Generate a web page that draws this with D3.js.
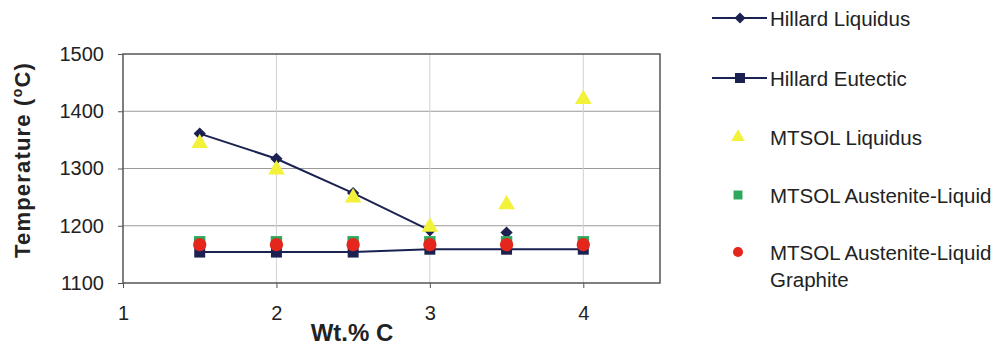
<!DOCTYPE html>
<html>
<head>
<meta charset="utf-8">
<script src="https://cdn.jsdelivr.net/npm/d3@7"></script>
<style>
  body { margin: 0; background: #fff; }
  svg { font-family: "Liberation Sans", Arial, sans-serif; }
</style>
</head>
<body>
<svg id="chart" width="1006" height="349"></svg>
<script>
// wt.% C positions
var wtC = [1.5, 2, 2.5, 3, 3.5, 4];
var xTicks = [1, 2, 3, 4];
var yTicks = [1100, 1200, 1300, 1400, 1500];

// series (null = no point)
var hillardLiquidus = [1361, 1317, 1257, 1192, 1188, null];
var hillardEutectic = [1154, 1154, 1154, 1159, 1159, 1159];
var mtsolLiquidus = [1344, 1298, 1249, 1198, 1237, 1421];
var mtsolAusLiq = [1172, 1172, 1172, 1172, 1172, 1172];
var mtsolAusLiqGraphite = [1167, 1167, 1167, 1167, 1167, 1167];

var legendNames = ["Hillard Liquidus", "Hillard Eutectic", "MTSOL Liquidus", "MTSOL Austenite-Liquid", "MTSOL Austenite-Liquid"];

var navy = "#1b2150", yellow = "#f2f23a", green = "#2fa85c", red = "#e5261c";

var svg = d3.select("#chart");
var margin = { top: 54, left: 123, right: 346, bottom: 66 };
var width = 1006 - margin.left - margin.right,
    height = 349 - margin.top - margin.bottom;

var x = d3.scaleLinear().domain([1, 4.5]).range([0, width]);
var y = d3.scaleLinear().domain([1100, 1500]).range([height, 0]);

var g = svg.append("g").attr("transform", "translate(" + margin.left + "," + margin.top + ")");

// grid
g.selectAll(".hgrid").data(yTicks.slice(1, -1)).enter().append("line")
    .attr("x1", 0).attr("x2", width)
    .attr("y1", d => y(d)).attr("y2", d => y(d))
    .attr("stroke", "#9a9a9a").attr("stroke-width", 1);
g.selectAll(".vgrid").data(xTicks.slice(1)).enter().append("line")
    .attr("x1", d => x(d)).attr("x2", d => x(d))
    .attr("y1", 0).attr("y2", height)
    .attr("stroke", "#d2d2d2").attr("stroke-width", 1);

// axes
var yAxis = g.append("g")
    .call(d3.axisLeft(y).tickValues(yTicks).tickSize(5).tickPadding(14).tickFormat(d3.format("d")));
var xAxis = g.append("g").attr("transform", "translate(0," + height + ")")
    .call(d3.axisBottom(x).tickValues(xTicks).tickSize(5).tickPadding(18).tickFormat(d3.format("d")));
[yAxis, xAxis].forEach(function(a) {
    a.select(".domain").remove();
    a.selectAll("line").attr("stroke", "#555");
    a.selectAll("text").attr("fill", "#222").style("font-size", "20px");
});

g.append("rect").attr("x", 0).attr("y", 0).attr("width", width).attr("height", height)
    .attr("fill", "none").attr("stroke", "#555").attr("stroke-width", 1.5);

// axis titles
svg.append("text").attr("transform", "translate(30,160) rotate(-90)")
    .attr("text-anchor", "middle").style("font-size", "22px").style("font-weight", "bold")
    .style("letter-spacing", "1.2px").attr("fill", "#222")
    .call(function(t) {
        t.append("tspan").text("Temperature (");
        t.append("tspan").attr("dy", -8).style("font-size", "14px").text("o");
        t.append("tspan").attr("dy", 8).text("C)");
    });
svg.append("text").attr("x", 352).attr("y", 341).attr("text-anchor", "middle")
    .style("font-size", "24px").style("font-weight", "bold").attr("fill", "#222").text("Wt.% C");

function pts(vals) {
    return vals.map((v, i) => ({ x: wtC[i], v: v })).filter(d => d.v != null);
}

var line = d3.line().x(d => x(d.x)).y(d => y(d.v));

// Hillard lines (liquidus line stops at 3.0)
g.append("path").datum(pts(hillardEutectic)).attr("d", line)
    .attr("fill", "none").attr("stroke", navy).attr("stroke-width", 2);
g.append("path").datum(pts(hillardLiquidus).filter(d => d.x <= 3)).attr("d", line)
    .attr("fill", "none").attr("stroke", navy).attr("stroke-width", 2);

var sym = function(type, size) { return d3.symbol().type(type).size(size)(); };

function marks(vals, type, size, color, rot) {
    g.append("g").selectAll("path").data(pts(vals)).enter().append("path")
        .attr("d", sym(type, size))
        .attr("transform", d => "translate(" + x(d.x) + "," + y(d.v) + ")" + (rot ? " rotate(45)" : ""))
        .attr("fill", color);
}
marks(hillardEutectic, d3.symbolSquare, 120, navy);
marks(hillardLiquidus, d3.symbolSquare, 75, navy, true);
marks(mtsolLiquidus, d3.symbolTriangle, 120, yellow);
marks(mtsolAusLiq, d3.symbolSquare, 130, green);
marks(mtsolAusLiqGraphite, d3.symbolCircle, 140, red);

// legend
var lg = svg.append("g");
var rowsY = [18, 78, 137, 195, 252];
var lx = 770;
function legText(i) {
    lg.append("text").attr("x", lx).attr("y", rowsY[i] + 8).style("font-size", "20.5px").attr("fill", "#222").text(legendNames[i]);
}
[0, 1].forEach(function(i) {
    lg.append("line").attr("x1", 712).attr("x2", 767).attr("y1", rowsY[i]).attr("y2", rowsY[i])
        .attr("stroke", navy).attr("stroke-width", 2);
    lg.append("path").attr("d", sym(d3.symbolSquare, i === 0 ? 60 : 100))
        .attr("transform", "translate(740," + rowsY[i] + ")" + (i === 0 ? " rotate(45)" : ""))
        .attr("fill", navy);
    legText(i);
});
lg.append("path").attr("d", sym(d3.symbolTriangle, 80)).attr("transform", "translate(738," + rowsY[2] + ")").attr("fill", yellow);
legText(2);
lg.append("path").attr("d", sym(d3.symbolSquare, 80)).attr("transform", "translate(738," + rowsY[3] + ")").attr("fill", green);
legText(3);
lg.append("path").attr("d", sym(d3.symbolCircle, 80)).attr("transform", "translate(738," + rowsY[4] + ")").attr("fill", red);
legText(4);
lg.append("text").attr("x", lx).attr("y", 287).style("font-size", "20.5px").attr("fill", "#222").text("Graphite");
</script>
</body>
</html>
